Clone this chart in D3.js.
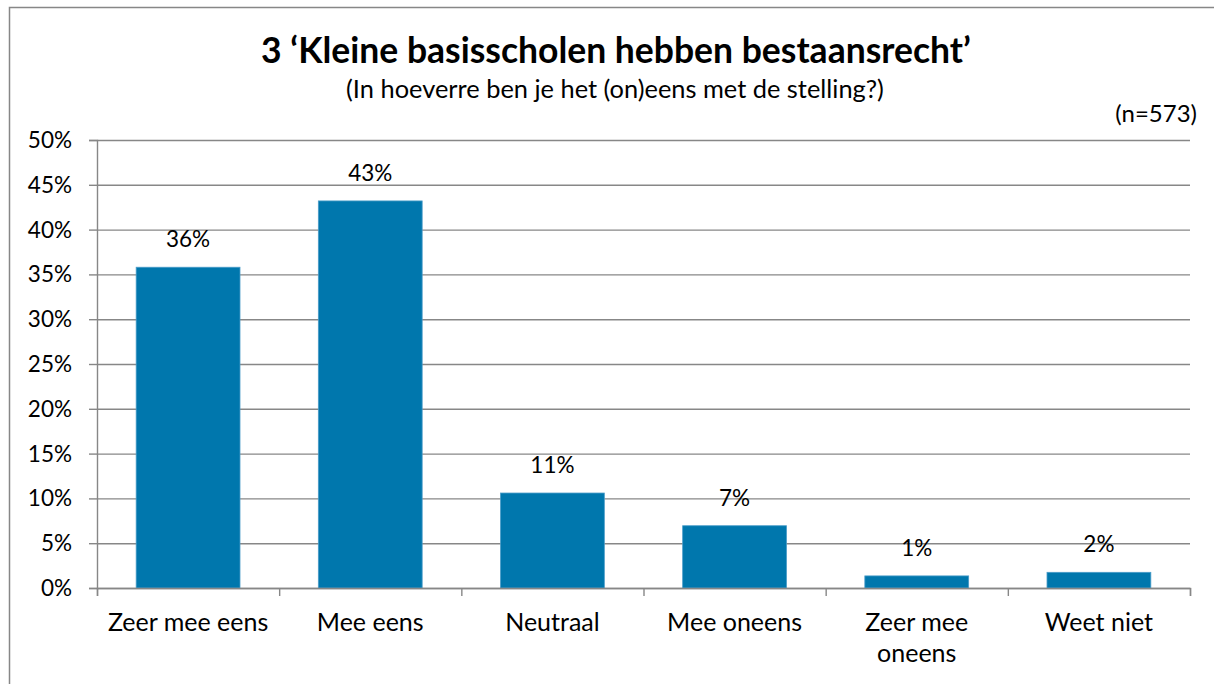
<!DOCTYPE html>
<html>
<head>
<meta charset="utf-8">
<script src="https://cdn.jsdelivr.net/npm/d3@7"></script>
<style>
  body { margin: 0; background: #fff; }
  svg text { font-family: Lato, "Open Sans", sans-serif; fill: #000; }
</style>
</head>
<body>
<div id="chart"></div>
<script>
// Data
const categories = ["Zeer mee eens", "Mee eens", "Neutraal", "Mee oneens", "Zeer mee oneens", "Weet niet"];
const values = [35.8, 43.2, 10.6, 6.95, 1.35, 1.75];
const yTicks = [0, 5, 10, 15, 20, 25, 30, 35, 40, 45, 50];

const titleText = "3 \u2018Kleine basisscholen hebben bestaansrecht\u2019";
const subtitleText = "(In hoeverre ben je het (on)eens met de stelling?)";
const nText = "(n=573)";

// Setting up the SVG
const w = 1214;
const h = 684;
const x0 = 97, x1 = 1190;   // plot area left/right
const y0 = 140, y1 = 588;   // plot area top/bottom

const gridColor = "#878787";
const barColor = "#0077ad";

var svg = d3.select("#chart")
  .append("svg")
  .attr("width", w)
  .attr("height", h);

// chart border
svg.append("rect")
  .attr("x", 9.5)
  .attr("y", 7.5)
  .attr("width", w + 20)
  .attr("height", h + 20)
  .attr("fill", "none")
  .attr("stroke", gridColor)
  .attr("stroke-width", 1.5);

// Scales
const xScale = d3.scaleBand()
  .domain(categories)
  .range([x0, x1])
  .paddingInner(0.43)
  .paddingOuter(0.215);

const yScale = d3.scaleLinear()
  .domain([0, 50])
  .range([y1, y0]);

// boundaries between categories, for the tick marks
const edgeScale = d3.scaleLinear()
  .domain([0, categories.length])
  .range([x0, x1]);

// Gridlines
svg.append("g")
  .attr("class", "grid")
  .attr("transform", `translate(${x0},0)`)
  .call(d3.axisLeft(yScale).tickValues(yTicks).tickSize(-(x1 - x0)).tickFormat(""))
  .call(g => g.select(".domain").remove())
  .call(g => g.selectAll("line").attr("stroke", gridColor).attr("stroke-width", 1.4));

// yAxis
svg.append("g")
  .attr("id", "y-axis")
  .attr("transform", `translate(${x0},0)`)
  .call(d3.axisLeft(yScale).tickValues(yTicks).tickSize(8).tickPadding(17).tickFormat(d => d + "%"))
  .call(g => g.select(".domain").attr("stroke", gridColor).attr("stroke-width", 1.4))
  .call(g => g.selectAll("line").attr("stroke", gridColor).attr("stroke-width", 1.4))
  .call(g => g.selectAll("text")
    .attr("font-size", 22.5)
    .attr("font-family", "Lato")
    .attr("dy", "0.33em"));

// Bars
svg.selectAll("rect.bar")
  .data(values)
  .enter()
  .append("rect")
  .attr("class", "bar")
  .attr("x", (d, i) => xScale(categories[i]))
  .attr("y", d => yScale(d))
  .attr("width", xScale.bandwidth())
  .attr("height", d => yScale(0) - yScale(d))
  .attr("fill", barColor)
  .attr("stroke", "#4a9cc9")
  .attr("stroke-width", 0.8);

// xAxis: ticks at category edges
svg.append("g")
  .attr("id", "x-axis")
  .attr("transform", `translate(0,${y1})`)
  .call(d3.axisBottom(edgeScale).tickValues(d3.range(categories.length + 1)).tickSize(8).tickFormat(""))
  .call(g => g.select(".domain").attr("stroke", gridColor).attr("stroke-width", 1.4))
  .call(g => g.selectAll("line").attr("stroke", gridColor).attr("stroke-width", 1.4));

// category labels
svg.append("g")
  .attr("transform", `translate(0,${y1})`)
  .call(d3.axisBottom(xScale).tickSize(0).tickPadding(0))
  .call(g => g.select(".domain").remove())
  .call(g => g.selectAll("text")
    .attr("font-size", 25)
    .attr("font-family", "Lato")
    .attr("y", 43)
    .attr("dy", 0)
    .call(wrap, edgeScale(1) - edgeScale(0) - 8));

// Value labels
svg.selectAll("text.value")
  .data(values)
  .enter()
  .append("text")
  .attr("class", "value")
  .attr("x", (d, i) => xScale(categories[i]) + xScale.bandwidth() / 2)
  .attr("y", d => yScale(d) - 20)
  .attr("text-anchor", "middle")
  .attr("font-size", 22.5)
  .text(d => d3.format(".0%")(d / 100));

// Titles
svg.append("text")
  .attr("x", 616)
  .attr("y", 63)
  .attr("text-anchor", "middle")
  .attr("font-size", 35.5)
  .attr("font-weight", "bold")
  .text(titleText);

svg.append("text")
  .attr("x", 615)
  .attr("y", 98)
  .attr("text-anchor", "middle")
  .attr("font-size", 25.4)
  .text(subtitleText);

svg.append("text")
  .attr("x", 1197)
  .attr("y", 122)
  .attr("text-anchor", "end")
  .attr("font-size", 24)
  .text(nText);

// wrap long category labels over several lines
function wrap(texts, width) {
  texts.each(function() {
    const text = d3.select(this);
    const words = text.text().split(/\s+/);
    const x = text.attr("x") || 0;
    const y = text.attr("y");
    let line = [];
    let lineNo = 0;
    let tspan = text.text(null).append("tspan").attr("x", x).attr("y", y);
    words.forEach(word => {
      line.push(word);
      tspan.text(line.join(" "));
      if (tspan.node().getComputedTextLength() > width && line.length > 1) {
        line.pop();
        tspan.text(line.join(" "));
        line = [word];
        lineNo++;
        tspan = text.append("tspan").attr("x", x).attr("y", +y + lineNo * 31).text(word);
      }
    });
  });
}
</script>
</body>
</html>
